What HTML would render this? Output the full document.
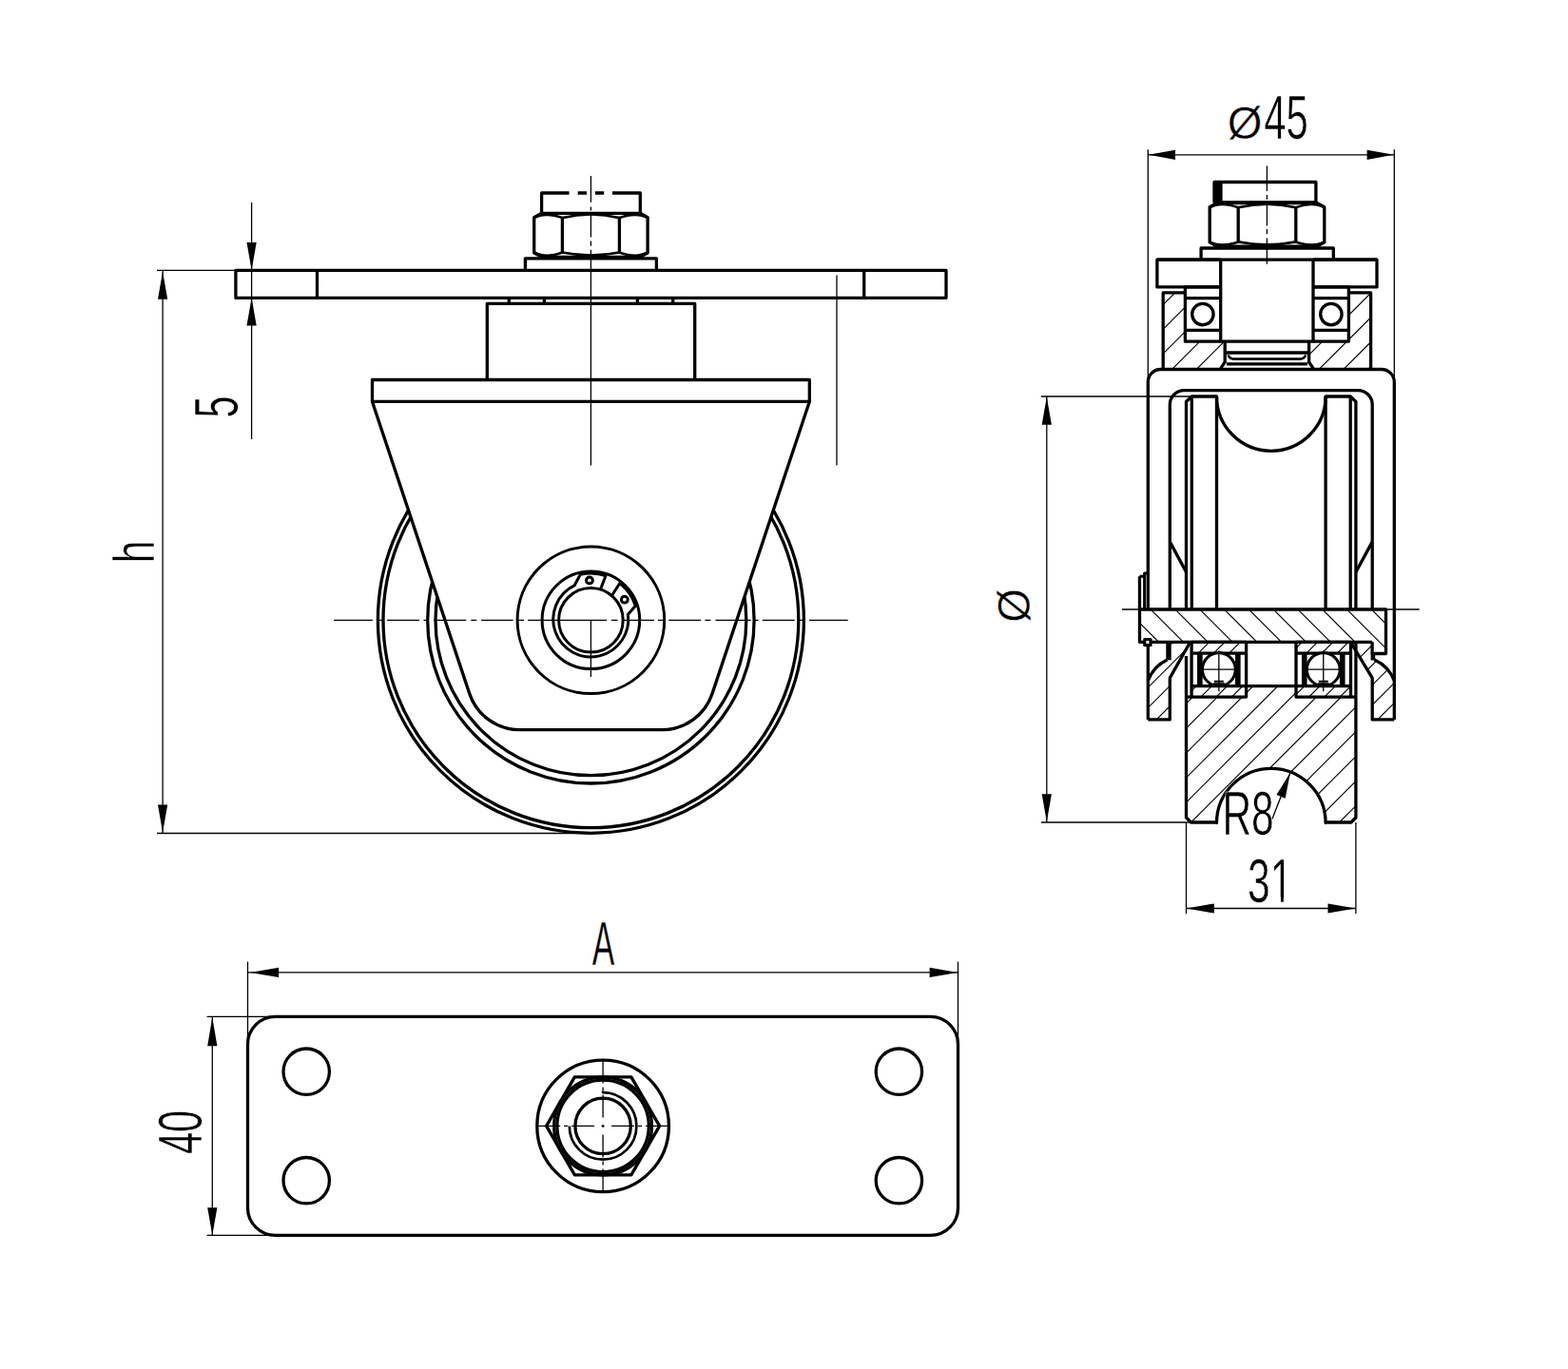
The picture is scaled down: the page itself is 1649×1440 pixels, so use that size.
<!DOCTYPE html>
<html lang="en"><head><meta charset="utf-8"><title>Drawing</title>
<style>
html,body{margin:0;padding:0;background:#fff;}
svg{display:block}
.k{fill:none;stroke:#000;stroke-width:3.3;stroke-linecap:butt;stroke-linejoin:round}
.kr{fill:none;stroke:#000;stroke-width:3.3;stroke-linecap:round;stroke-linejoin:round}
.m{fill:none;stroke:#000;stroke-width:3.0;stroke-linecap:butt;stroke-linejoin:round}
.n{fill:none;stroke:#000;stroke-width:1.3}
.a{fill:none;stroke:#000;stroke-width:2.7}
.h{fill:none;stroke:#000;stroke-width:1.15}
.c{fill:none;stroke:#000;stroke-width:1.3;stroke-dasharray:30 5 4 5}
.f{fill:#000;stroke:none}
.w{fill:#fff;stroke:none}
.t{font-family:"Liberation Sans",sans-serif;fill:#000;stroke:#fff;stroke-width:1.4px;text-anchor:start}
</style></head>
<body>
<svg width="1649" height="1440" viewBox="0 0 1649 1440">
<rect x="0" y="0" width="1649" height="1440" fill="#fff"/>
<defs><clipPath id="c1"><path d="M0 0H1649V1440H0Z M391.50 422.40L493.66 729.38A56.0 56.0 0 0 0 546.80 767.70L696.00 767.70A56.0 56.0 0 0 0 749.14 729.38L851.30 422.40Z" clip-rule="evenodd"/></clipPath><clipPath id="c2"><path d="M1223.3 307.9H1246.4V359.2H1288.2V381L1283.7 387.4H1223.3ZM1441.7 307.9H1418.3V359.2H1376.5V381L1381 387.4H1441.7Z" clip-rule="nonzero"/></clipPath><clipPath id="c3"><path d="M1198.5 641.0H1457.5V687.5H1443.1V675.3H1198.5Z" clip-rule="nonzero"/></clipPath><clipPath id="c4"><path d="M1247.5 733.1H1310.6V721.6H1363V733.1H1425.9V860L1420.9 865H1394.10A57.3 57.3 0 0 0 1279.50 865H1252.5L1247.5 860Z" clip-rule="nonzero"/></clipPath><clipPath id="c5"><path d="M1253.1 675.3H1310.6V687.2H1253.1Z M1253.1 721.6H1310.6V733.1H1253.1ZM1363.0 675.3H1420.5V687.2H1363.0Z M1363.0 721.6H1420.5V733.1H1363.0Z" clip-rule="nonzero"/></clipPath><clipPath id="c6"><path d="M1231.6 676.9H1250L1230.3 713.1V756.9H1207.25V716A40 40 0 0 1 1227.5 694H1231.6Z" clip-rule="nonzero"/></clipPath><clipPath id="c7"><path d="M1442.5 687.5H1443.1V676.9H1423L1443.1 713.1V756.9H1466.2V716A40 40 0 0 0 1446 694H1442.5Z" clip-rule="nonzero"/></clipPath></defs>
<g clip-path="url(#c1)">
<circle class="k" cx="621.40" cy="652.30" r="224.00"/>
<circle class="k" cx="621.40" cy="652.30" r="218.40"/>
<circle class="k" cx="621.40" cy="652.30" r="171.70"/>
<circle class="k" cx="621.40" cy="652.30" r="163.40"/>
</g>
<path class="k" d="M391.50 422.40L493.66 729.38A56.0 56.0 0 0 0 546.80 767.70L696.00 767.70A56.0 56.0 0 0 0 749.14 729.38L851.30 422.40"/>
<rect class="k" x="391.50" y="399.50" width="459.80" height="22.90"/>
<path class="k" d="M512.3 399.5V319.4H730.7V399.5"/>
<line class="k" x1="535.30" y1="313.20" x2="535.30" y2="319.40"/>
<line class="k" x1="572.40" y1="313.20" x2="572.40" y2="319.40"/>
<line class="k" x1="670.40" y1="313.20" x2="670.40" y2="319.40"/>
<line class="k" x1="707.70" y1="313.20" x2="707.70" y2="319.40"/>
<rect class="k" x="247.90" y="284.30" width="747.10" height="29.00"/>
<line class="k" x1="333.50" y1="284.30" x2="333.50" y2="313.30"/>
<line class="k" x1="908.70" y1="284.30" x2="908.70" y2="313.30"/>
<path class="k" d="M552.4 284V271.8H690.4V284"/>
<path class="k" d="M561.70 228.60 L569.70 224.30 L673.10 224.30 L681.10 228.60 L681.10 266.00 L673.10 270.30 L569.70 270.30 L561.70 266.00 Z"/>
<line class="k" x1="591.40" y1="229.10" x2="591.40" y2="265.50"/>
<line class="k" x1="651.40" y1="229.10" x2="651.40" y2="265.50"/>
<path class="a" d="M561.70 229.10Q573.55 222.50 591.40 229.10Q621.40 221.90 651.40 229.10Q669.25 222.50 681.10 229.10"/>
<path class="a" d="M561.70 265.50Q573.55 272.10 591.40 265.50Q621.40 271.50 651.40 265.50Q669.25 272.10 681.10 265.50"/>
<path class="k" d="M569.6 224.3V203H598.5M607.7 203H617M626 203H635.2M644 203H673.3V224.3"/>
<circle class="m" cx="621.40" cy="652.30" r="77.30"/>
<circle class="m" cx="621.40" cy="652.30" r="51.30"/>
<circle class="m" cx="621.40" cy="652.30" r="33.80"/>
<path class="m" d="M631.66 619.36L637.04 605.55A49.3 49.3 0 0 0 610.31 604.26L604.05 615.93A39.5 39.5 0 1 0 660.44 646.26L668.37 637.31A49.3 49.3 0 0 0 651.75 613.45L643.81 626.07" style="stroke-linejoin:round"/>
<circle class="m" cx="619.94" cy="610.43" r="3.40"/>
<circle class="m" cx="656.82" cy="630.68" r="3.40"/>
<path class="n" d="M351.1 652.30H391.9M397.0 652.30H402.5M407.1 652.30H441.1M445.5 652.30H451.0M456.5 652.30H490.3M495.3 652.30H501.3M506.1 652.30H539.6M545.3 652.30H551.0M555.1 652.30H638.1M642.8 652.30H649.5M654.8 652.30H688.0M692.0 652.30H697.5M703.2 652.30H737.2M741.4 652.30H747.4M752.5 652.30H789.8M792.5 652.30H797.5M801.7 652.30H835.7M840.0 652.30H845.8M850.9 652.30H891.7"/>
<path class="n" d="M621.4 185V212.7M621.4 217.4V221.4M621.4 225.5V249.4M621.4 253.4V258.7M621.4 262.7V489.5"/>
<line class="n" x1="621.40" y1="652.30" x2="621.40" y2="712.00"/>
<line class="n" x1="880.00" y1="289.50" x2="880.00" y2="489.50"/>
<line class="n" x1="165.00" y1="284.30" x2="248.00" y2="284.30"/>
<line class="n" x1="165.00" y1="876.50" x2="621.00" y2="876.50"/>
<line class="n" x1="171.10" y1="284.30" x2="171.10" y2="876.50"/>
<path class="f" d="M171.10 285.50L176.20 314.80L166.00 314.80Z"/>
<path class="f" d="M171.10 875.80L166.00 846.50L176.20 846.50Z"/>
<text class="t" transform="translate(162.30,592.37) rotate(-90) scale(0.6704,0.955)" style="font-size:64.0px;stroke-width:0.6px">h</text>
<line class="n" x1="264.60" y1="213.00" x2="264.60" y2="462.00"/>
<path class="f" d="M264.60 284.30L259.50 255.00L269.70 255.00Z"/>
<path class="f" d="M264.60 313.30L269.70 342.60L259.50 342.60Z"/>
<text class="t" transform="translate(249.60,439.45) rotate(-90) scale(0.6426,1)" style="font-size:64.0px;stroke-width:0.6px">5</text>
<path class="h" clip-path="url(#c2)" d="M1215.00 277.15L1450.00 42.15M1215.00 302.92L1450.00 67.92M1215.00 328.69L1450.00 93.69M1215.00 354.46L1450.00 119.46M1215.00 380.23L1450.00 145.23M1215.00 406.00L1450.00 171.00M1215.00 431.77L1450.00 196.77M1215.00 457.54L1450.00 222.54M1215.00 483.31L1450.00 248.31M1215.00 509.08L1450.00 274.08M1215.00 534.85L1450.00 299.85M1215.00 560.62L1450.00 325.62M1215.00 586.39L1450.00 351.39M1215.00 612.16L1450.00 377.16"/>
<path class="h" clip-path="url(#c3)" d="M1195.00 703.30L1462.00 970.30M1195.00 677.50L1462.00 944.50M1195.00 651.70L1462.00 918.70M1195.00 625.90L1462.00 892.90M1195.00 600.10L1462.00 867.10M1195.00 574.30L1462.00 841.30M1195.00 548.50L1462.00 815.50M1195.00 522.70L1462.00 789.70M1195.00 496.90L1462.00 763.90M1195.00 471.10L1462.00 738.10M1195.00 445.30L1462.00 712.30M1195.00 419.50L1462.00 686.50M1195.00 393.70L1462.00 660.70"/>
<path class="h" clip-path="url(#c4)" d="M1240.00 695.50L1432.00 503.50M1240.00 721.50L1432.00 529.50M1240.00 747.50L1432.00 555.50M1240.00 773.50L1432.00 581.50M1240.00 799.50L1432.00 607.50M1240.00 825.50L1432.00 633.50M1240.00 851.50L1432.00 659.50M1240.00 877.50L1432.00 685.50M1240.00 903.50L1432.00 711.50M1240.00 929.50L1432.00 737.50M1240.00 955.50L1432.00 763.50M1240.00 981.50L1432.00 789.50M1240.00 1007.50L1432.00 815.50M1240.00 1033.50L1432.00 841.50M1240.00 1059.50L1432.00 867.50"/>
<path class="h" clip-path="url(#c5)" d="M1250.00 664.70L1424.00 490.70M1250.00 680.95L1424.00 506.95M1250.00 697.20L1424.00 523.20M1250.00 713.45L1424.00 539.45M1250.00 729.70L1424.00 555.70M1250.00 745.95L1424.00 571.95M1250.00 762.20L1424.00 588.20M1250.00 778.45L1424.00 604.45M1250.00 794.70L1424.00 620.70M1250.00 810.95L1424.00 636.95M1250.00 827.20L1424.00 653.20M1250.00 843.45L1424.00 669.45M1250.00 859.70L1424.00 685.70M1250.00 875.95L1424.00 701.95M1250.00 892.20L1424.00 718.20M1250.00 908.45L1424.00 734.45"/>
<path class="h" clip-path="url(#c6)" d="M1205.00 661.60L1252.00 614.60M1205.00 682.90L1252.00 635.90M1205.00 704.20L1252.00 657.20M1205.00 725.50L1252.00 678.50M1205.00 746.80L1252.00 699.80M1205.00 768.10L1252.00 721.10M1205.00 789.40L1252.00 742.40"/>
<path class="h" clip-path="url(#c7)" d="M1420.00 659.70L1468.00 611.70M1420.00 680.70L1468.00 632.70M1420.00 701.70L1468.00 653.70M1420.00 722.70L1468.00 674.70M1420.00 743.70L1468.00 695.70M1420.00 764.70L1468.00 716.70M1420.00 785.70L1468.00 737.70"/>
<rect class="k" x="1277.20" y="191.50" width="106.70" height="21.30"/>
<rect class="f" x="1275.6" y="191.5" width="10" height="21.3"/>
<path class="k" d="M1272.20 217.80 L1280.20 213.50 L1384.80 213.50 L1392.80 217.80 L1392.80 254.90 L1384.80 259.20 L1280.20 259.20 L1272.20 254.90 Z"/>
<line class="k" x1="1302.20" y1="218.30" x2="1302.20" y2="254.40"/>
<line class="k" x1="1362.80" y1="218.30" x2="1362.80" y2="254.40"/>
<path class="a" d="M1272.20 218.30Q1284.20 211.70 1302.20 218.30Q1332.50 211.10 1362.80 218.30Q1380.80 211.70 1392.80 218.30"/>
<path class="a" d="M1272.20 254.40Q1284.20 261.00 1302.20 254.40Q1332.50 260.40 1362.80 254.40Q1380.80 261.00 1392.80 254.40"/>
<path class="k" d="M1263.1 273.2V261H1402.3V273.2"/>
<path class="k" d="M1283.7 273.2H1216.9V301.9H1283.7"/>
<path class="k" d="M1381 273.2H1448V301.9H1381"/>
<line class="k" x1="1216.90" y1="273.20" x2="1448.00" y2="273.20"/>
<path class="k" d="M1283.7 273.2V359.2H1381V273.2"/>
<path class="k" d="M1283.70 301.9H1246.40V359.2H1283.70"/>
<line class="k" x1="1283.70" y1="313.70" x2="1246.40" y2="313.70"/>
<line class="k" x1="1283.70" y1="347.40" x2="1246.40" y2="347.40"/>
<circle class="k" cx="1264.90" cy="330.60" r="11.20"/>
<path class="k" d="M1246.40 307.9H1223.20V387.4"/>
<path class="k" d="M1288.20 359.2V381L1283.70 387.4"/>
<path class="k" d="M1381.10 301.9H1418.40V359.2H1381.10"/>
<line class="k" x1="1381.10" y1="313.70" x2="1418.40" y2="313.70"/>
<line class="k" x1="1381.10" y1="347.40" x2="1418.40" y2="347.40"/>
<circle class="k" cx="1399.90" cy="330.60" r="11.20"/>
<path class="k" d="M1418.40 307.9H1441.60V387.4"/>
<path class="k" d="M1376.60 359.2V381L1381.10 387.4"/>
<line class="k" x1="1288.20" y1="371.00" x2="1376.50" y2="371.00"/>
<path class="a" d="M1291.5 373.5Q1293.5 377.6 1297.5 377.6H1367.3Q1371.3 377.6 1373.3 373.5"/>
<line class="k" x1="1290.00" y1="382.90" x2="1375.00" y2="382.90"/>
<path class="k" d="M1207.3 641.0V402.0A13.5 13.5 0 0 1 1220.8 388.5H1452.8A13.5 13.5 0 0 1 1466.3 402.0V756.9"/>
<line class="k" x1="1207.30" y1="675.30" x2="1207.30" y2="756.90"/>
<path class="k" d="M1230.3 641.0V425.6A15.0 15.0 0 0 1 1245.3 410.6H1428.2A15.0 15.0 0 0 1 1443.2 425.6V641.0"/>
<path class="k" d="M1247.5 641.0V422.5L1253.3 417H1279.50A57.3 57.3 0 0 0 1394.10 417H1420.2L1425.9 422.5V641.0"/>
<line class="k" x1="1253.30" y1="417.00" x2="1253.30" y2="641.00"/>
<line class="k" x1="1279.50" y1="417.00" x2="1279.50" y2="641.00"/>
<line class="k" x1="1420.20" y1="417.00" x2="1420.20" y2="641.00"/>
<line class="k" x1="1394.10" y1="417.00" x2="1394.10" y2="641.00"/>
<line class="k" x1="1230.30" y1="569.90" x2="1247.50" y2="601.80"/>
<line class="k" x1="1443.20" y1="569.90" x2="1425.90" y2="601.80"/>
<path class="k" d="M1198.5 606.3V675.3H1443.1"/>
<path class="k" d="M1198.5 641.0H1457.5V687.5H1443.1V675.3"/>
<path class="k" d="M1198.5 606.3H1203.6M1203.6 641V603.1H1207.3" style="stroke-width:3px"/>
<rect class="k" x="1203.80" y="672.50" width="6.20" height="6.20" style="stroke-width:3.2px;fill:#fff"/>
<line class="n" x1="1180.00" y1="641.00" x2="1492.70" y2="641.00"/>
<rect class="k" x="1253.10" y="675.30" width="57.50" height="57.80"/>
<line class="k" x1="1253.10" y1="687.20" x2="1310.60" y2="687.20"/>
<path class="k" d="M1253.1 721.6H1310.6"/>
<rect class="f" x="1259.05" y="687.2" width="5.6" height="34.4"/>
<rect class="f" x="1299.05" y="687.2" width="5.6" height="34.4"/>
<circle class="k" cx="1281.85" cy="704.20" r="17.40" style="fill:#fff;stroke-width:3px"/>
<line class="n" x1="1264.85" y1="704.20" x2="1298.85" y2="704.20"/>
<line class="n" x1="1281.85" y1="684.20" x2="1281.85" y2="727.20"/>
<path class="n" d="M1276.85 716.7H1286.85M1275.85 719.2H1287.85" style="stroke-width:2px"/>
<rect class="k" x="1363.00" y="675.30" width="57.50" height="57.80"/>
<line class="k" x1="1363.00" y1="687.20" x2="1420.50" y2="687.20"/>
<path class="k" d="M1363.0 721.6H1420.5"/>
<rect class="f" x="1368.95" y="687.2" width="5.6" height="34.4"/>
<rect class="f" x="1408.95" y="687.2" width="5.6" height="34.4"/>
<circle class="k" cx="1391.75" cy="704.20" r="17.40" style="fill:#fff;stroke-width:3px"/>
<line class="n" x1="1374.75" y1="704.20" x2="1408.75" y2="704.20"/>
<line class="n" x1="1391.75" y1="684.20" x2="1391.75" y2="727.20"/>
<path class="n" d="M1386.75 716.7H1396.75M1385.75 719.2H1397.75" style="stroke-width:2px"/>
<line class="k" x1="1310.60" y1="721.60" x2="1363.00" y2="721.60"/>
<path class="k" d="M1247.5 690V860L1252.5 865H1279.50V865.6A57.3 57.3 0 0 1 1394.10 865.6V865H1420.9L1425.9 860V675.3"/>
<line class="k" x1="1247.50" y1="733.10" x2="1253.10" y2="733.10"/>
<line class="k" x1="1420.50" y1="733.10" x2="1425.90" y2="733.10"/>
<path class="k" d="M1207.3 756.9H1230.3V713.1L1251 676.5"/>
<rect class="f" x="1226.3" y="675.3" width="5.4" height="19"/>
<path class="k" d="M1227.5 694A40 40 0 0 0 1207.3 716"/>
<path class="k" d="M1466.3 756.9H1443.2V713.1L1421.3 677"/>
<rect class="f" x="1441.6" y="687.5" width="4.6" height="7"/>
<path class="k" d="M1445.5 694A40 40 0 0 1 1466.3 716"/>
<line class="n" x1="1207.30" y1="157.30" x2="1207.30" y2="402.00"/>
<line class="n" x1="1466.30" y1="157.30" x2="1466.30" y2="402.00"/>
<line class="n" x1="1207.30" y1="162.80" x2="1466.30" y2="162.80"/>
<path class="f" d="M1207.80 162.80L1236.00 157.70L1236.00 167.90Z"/>
<path class="f" d="M1465.80 162.80L1437.60 167.90L1437.60 157.70Z"/>
<g><text class="t" transform="translate(1290.66,145.50) scale(0.9776,1)" style="font-size:48.4px;stroke-width:0.5px">Ø</text><text class="t" transform="translate(1329.34,145.60) scale(0.6534,1)" style="font-size:64.0px;stroke-width:0.6px">45</text></g>
<path class="n" d="M1332.4 174.6V200.9M1332.4 205V209.7M1332.4 213.3V237.5M1332.4 241.1V246.3M1332.4 250.4V277.8"/>
<line class="n" x1="1095.00" y1="417.00" x2="1253.00" y2="417.00"/>
<line class="n" x1="1095.00" y1="865.00" x2="1252.00" y2="865.00"/>
<line class="n" x1="1100.80" y1="417.00" x2="1100.80" y2="865.00"/>
<path class="f" d="M1100.80 417.50L1105.90 446.80L1095.70 446.80Z"/>
<path class="f" d="M1100.80 864.50L1095.70 835.20L1105.90 835.20Z"/>
<text class="t" transform="translate(1082.60,654.67) rotate(-90) scale(0.9459,1)" style="font-size:48.4px;stroke-width:0.5px">Ø</text>
<line class="n" x1="1337.90" y1="861.40" x2="1356.80" y2="813.00"/>
<path class="f" d="M1356.80 813.00L1351.75 839.69L1342.43 836.05Z"/>
<text class="t" transform="translate(1285.41,877.90) scale(0.6641,1)" style="font-size:64.0px;stroke-width:0.6px">R8</text>
<line class="n" x1="1247.50" y1="865.00" x2="1247.50" y2="961.00"/>
<line class="n" x1="1425.90" y1="865.00" x2="1425.90" y2="961.00"/>
<line class="n" x1="1247.50" y1="955.50" x2="1425.90" y2="955.50"/>
<path class="f" d="M1247.60 955.50L1276.90 950.40L1276.90 960.60Z"/>
<path class="f" d="M1425.80 955.50L1396.50 960.60L1396.50 950.40Z"/>
<text class="t" transform="translate(1312.08,948.80) scale(0.6666,1)" style="font-size:64.0px;stroke-width:0.6px">31</text>
<rect class="w" x="1338.30" y="943.72" width="8.68" height="6.38"/>
<rect class="w" x="1349.85" y="943.72" width="8.83" height="6.38"/>
<rect class="k" x="260.5" y="1069.4" width="747.00" height="230.00" rx="29.0" ry="29.0"/>
<circle class="k" cx="322.20" cy="1127.20" r="24.20"/>
<circle class="k" cx="322.20" cy="1241.70" r="24.20"/>
<circle class="k" cx="945.40" cy="1127.20" r="24.20"/>
<circle class="k" cx="945.40" cy="1241.70" r="24.20"/>
<circle class="k" cx="634.10" cy="1184.40" r="69.30"/>
<path class="k" d="M693.60 1184.40 L663.85 1132.87 L604.35 1132.87 L574.60 1184.40 L604.35 1235.93 L663.85 1235.93 Z"/>
<circle class="k" cx="634.10" cy="1184.40" r="51.40"/>
<circle class="k" cx="634.10" cy="1184.40" r="48.20"/>
<circle class="k" cx="634.10" cy="1184.40" r="29.20"/>
<path class="k" d="M634.10 1147.60V1149.10A35.3 35.3 0 1 1 598.80 1184.40" style="stroke-width:2.7px"/>
<path class="n" d="M566.10 1184.40H589.10M593.10 1184.40H597.10M601.10 1184.40H625.10M632.60 1184.40H635.60M643.10 1184.40H667.10M671.10 1184.40H675.10M679.10 1184.40H702.10"/>
<path class="n" d="M634.10 1116.40V1139.40M634.10 1143.40V1147.40M634.10 1151.40V1175.40M634.10 1182.90V1185.90M634.10 1193.40V1217.40M634.10 1221.40V1225.40M634.10 1229.40V1252.40"/>
<line class="n" x1="260.50" y1="1011.60" x2="260.50" y2="1099.00"/>
<line class="n" x1="1007.50" y1="1011.60" x2="1007.50" y2="1099.00"/>
<line class="n" x1="260.50" y1="1022.90" x2="1007.50" y2="1022.90"/>
<path class="f" d="M263.00 1022.90L293.10 1017.80L293.10 1028.00Z"/>
<path class="f" d="M1007.20 1022.90L977.60 1028.00L977.60 1017.80Z"/>
<text class="t" transform="translate(622.68,1015.10) scale(0.5526,1)" style="font-size:64.0px;stroke-width:0.6px">A</text>
<line class="n" x1="217.60" y1="1069.40" x2="290.00" y2="1069.40"/>
<line class="n" x1="217.60" y1="1299.40" x2="290.00" y2="1299.40"/>
<line class="n" x1="223.30" y1="1069.40" x2="223.30" y2="1299.40"/>
<path class="f" d="M223.30 1069.90L228.40 1100.30L218.20 1100.30Z"/>
<path class="f" d="M223.30 1299.20L218.20 1270.30L228.40 1270.30Z"/>
<text class="t" transform="translate(211.70,1214.00) rotate(-90) scale(0.6494,1)" style="font-size:64.0px;stroke-width:0.6px">40</text>
</svg>
</body></html>
